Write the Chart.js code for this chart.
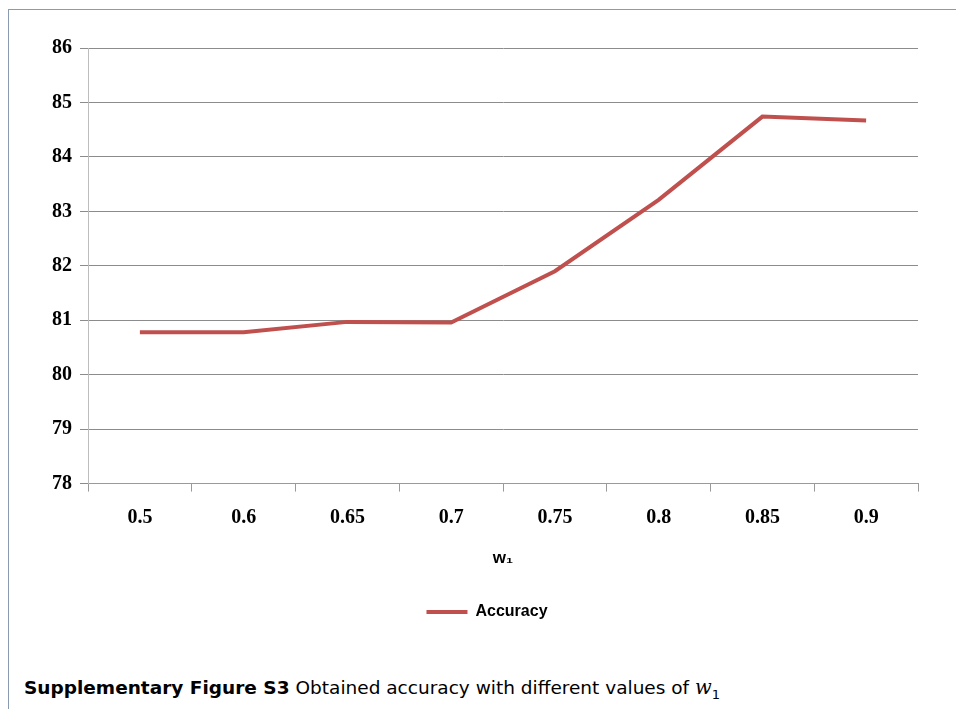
<!DOCTYPE html>
<html>
<head>
<meta charset="utf-8">
<script src="https://cdn.jsdelivr.net/npm/chart.js@4.4.0/dist/chart.umd.min.js"></script>
<style>
    body { margin: 0; background: #fff; width: 956px; height: 709px; overflow: hidden; position: relative; }
    #frame { position: absolute; left: 8px; top: 9px; right: -2px; bottom: -2px; border-left: 1px solid #8a9ab0; border-top: 1px solid #8a9ab0; }
    #wrap { position: absolute; left: 0; top: 0; width: 956px; height: 640px; }
    #caption { position: absolute; left: 24px; top: 676px; font-family: "DejaVu Sans", sans-serif; font-size: 18.5px; color: #000; white-space: nowrap; }
    #caption b { font-weight: bold; margin-right: 6px; }
    #caption i { font-family: "DejaVu Serif", serif; font-size: 19.5px; }
    #caption sub { font-size: 13px; }
</style>
</head>
<body>
<div id="frame"></div>
<div id="wrap"><canvas id="accChart" width="956" height="640"></canvas></div>
<div id="caption"><b>Supplementary Figure S3</b>Obtained accuracy with different values of <i>w</i><sub>1</sub></div>
<script>
// values
const w1Labels = ['0.5', '0.6', '0.65', '0.7', '0.75', '0.8', '0.85', '0.9'];
const accuracy = [80.78, 80.78, 80.97, 80.96, 81.9, 83.21, 84.74, 84.67];
const yTicks = [78, 79, 80, 81, 82, 83, 84, 85, 86];

const ctx = document.getElementById('accChart').getContext('2d');

const tickFont = { family: '"Liberation Serif", serif', size: 20, weight: 'bold' };

// the y axis is kept narrow so the legend sits where it does in the figure;
// widen its box after layout so the tick labels are not clipped
const widenYAxis = {
    id: 'widenYAxis',
    afterLayout(chart) {
        chart.scales.y.left = 0;
    }
};

const accChart = new Chart(ctx, {
    type: 'line',
    data: {
        labels: w1Labels,
        datasets: [{
            label: 'Accuracy',
            data: accuracy,
            borderColor: '#c0504d',
            backgroundColor: '#c0504d',
            borderWidth: 4,
            pointRadius: 0,
            tension: 0,
            fill: false
        }]
    },
    options: {
        responsive: false,
        animation: false,
        layout: { padding: { left: 56, right: 38, top: 48, bottom: 10 } },
        plugins: {
            legend: {
                position: 'bottom',
                labels: {
                    usePointStyle: true,
                    pointStyle: 'line',
                    pointStyleWidth: 41,
                    boxWidth: 41,
                    color: '#000',
                    font: { family: '"Liberation Sans", Arial, sans-serif', size: 16, weight: 'bold' }
                }
            },
            tooltip: { enabled: false }
        },
        scales: {
            x: {
                offset: true,
                grid: {
                    offset: true,
                    drawOnChartArea: false,
                    drawTicks: true,
                    tickLength: 8,
                    color: '#9a9a9a'
                },
                border: { color: '#9a9a9a' },
                ticks: { color: '#000', font: tickFont, padding: 14 },
                title: {
                    display: true,
                    text: 'w₁',
                    color: '#000',
                    font: { family: '"Liberation Sans", Arial, sans-serif', size: 17, weight: 'bold' },
                    padding: { top: 5, bottom: 25 }
                }
            },
            y: {
                min: 78,
                max: 86,
                afterBuildTicks: (scale) => { scale.ticks = yTicks.map(v => ({ value: v })); },
                afterFit: (scale) => { scale.width = 32; },
                grid: { color: '#8c8c8c', tickLength: 8 },
                border: { color: '#bdbdbd' },
                ticks: { color: '#000', font: tickFont, padding: 8 }
            }
        }
    },
    plugins: [widenYAxis]
});
</script>
</body>
</html>
